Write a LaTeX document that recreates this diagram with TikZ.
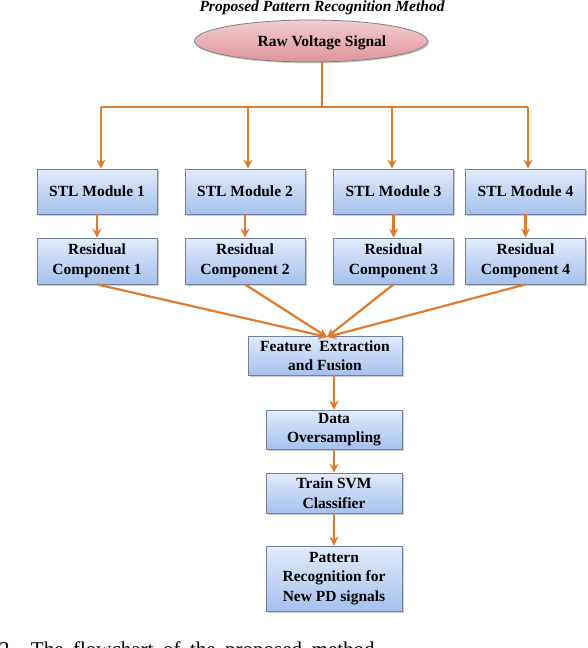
\documentclass[tikz,border=0pt]{standalone}
\usepackage{fontspec}
\setmainfont{Liberation Serif}
\usetikzlibrary{shapes.geometric,arrows.meta,shadows}
\definecolor{boxtop}{HTML}{E2ECFB}
\definecolor{boxbot}{HTML}{A6C0EC}
\definecolor{boxedge}{HTML}{6F819E}
\definecolor{arrowc}{HTML}{E07A2C}
\definecolor{elltop}{HTML}{F4CCD0}
\definecolor{ellbot}{HTML}{DC959C}
\definecolor{elledge}{HTML}{808080}
\begin{document}
\begin{tikzpicture}[x=1pt,y=-1pt,
  boxtxt/.style={font=\fontsize{15.5}{19.5}\selectfont\bfseries},
  box/.style={boxtxt, draw=boxedge, line width=0.8pt, top color=boxtop, bottom color=boxbot,
    drop shadow={shadow xshift=1.5pt, shadow yshift=-1.5pt, fill=black!40, opacity=0.5},
    align=center, inner sep=0pt},
  stlbox/.style={box, minimum width=120pt, minimum height=45pt},
  resbox/.style={box, minimum width=120pt, minimum height=46pt},
  colbox/.style={box, minimum width=136pt},
  arr/.style={draw=arrowc, line width=2.2pt, -{Stealth[length=9pt,width=9pt,inset=3pt]}},
  ln/.style={draw=arrowc, line width=2.2pt}
]
\useasboundingbox (0,0) rectangle (588,648);

\node[inner sep=1pt] (title) at (322,8) {\fontsize{15.5}{15.5}\selectfont\bfseries\itshape Proposed Pattern Recognition Method};

\node[ellipse, draw=elledge, line width=0.8pt, top color=elltop, bottom color=ellbot,
  minimum width=233pt, minimum height=42pt, inner sep=0pt,
  drop shadow={shadow xshift=1.5pt, shadow yshift=-1.5pt, fill=black!40, opacity=0.5},
  boxtxt] (raw) at (311,41) {};
\node[boxtxt] (rawtxt) at (322,43) {Raw Voltage Signal};

\node[stlbox] (s1) at (97,191.5) {STL Module 1};
\node[stlbox] (s2) at (245,191.5) {STL Module 2};
\node[stlbox] (s3) at (393.5,191.5) {STL Module 3};
\node[stlbox] (s4) at (525.5,191.5) {STL Module 4};

\node[resbox] (r1) at (97,261) {Residual\\Component 1};
\node[resbox] (r2) at (245,261) {Residual\\Component 2};
\node[resbox] (r3) at (393.5,261) {Residual\\Component 3};
\node[resbox] (r4) at (525.5,261) {Residual\\Component 4};

\node[box, minimum width=154pt, minimum height=39pt] (feat) at (325,355.5) {Feature\ \ Extraction\\and Fusion};
\node[colbox, minimum height=39pt] (data) at (334,429.5) {Data\\Oversampling};
\node[colbox, minimum height=40pt] (svm) at (334,493) {Train SVM\\Classifier};
\node[colbox, minimum height=65pt] (pat) at (334,578.5) {Pattern\\Recognition for\\New PD signals};

\coordinate (top) at (322,107);
\coordinate (b1) at (101,107);
\coordinate (b2) at (248,107);
\coordinate (b3) at (392,107);
\coordinate (b4) at (528,107);
\coordinate (conv) at (327,337);

\draw[ln] (rawtxt.south -| top) ++(0,8) -- (top);
\draw[ln] (b1) -- (b4);
\draw[arr] (b1) -- (b1 |- s1.north);
\draw[arr] (b2) -- (b2 |- s2.north);
\draw[arr] (b3) -- (b3 |- s3.north);
\draw[arr] (b4) -- (b4 |- s4.north);

\draw[arr] (s1) -- (r1);
\draw[arr] (s2) -- (r2);
\draw[arr] (s3) -- (r3);
\draw[arr] (s4) -- (r4);

\draw[arr] (r1.south) -- (conv);
\draw[arr] (r2.south) -- (conv);
\draw[arr] (r3.south) -- (conv);
\draw[arr] (r4.south) -- (conv);

\draw[arr] (feat.south -| data.north) -- (data.north);
\draw[arr] (data) -- (svm);
\draw[arr] (svm) -- (pat);

\node[anchor=base west, inner sep=0pt] (cap) at (-1,656) {\fontsize{21}{21}\selectfont\spaceskip=9.5pt 2.\hspace{16pt}The flowchart of the proposed method.};
\end{tikzpicture}
\end{document}
